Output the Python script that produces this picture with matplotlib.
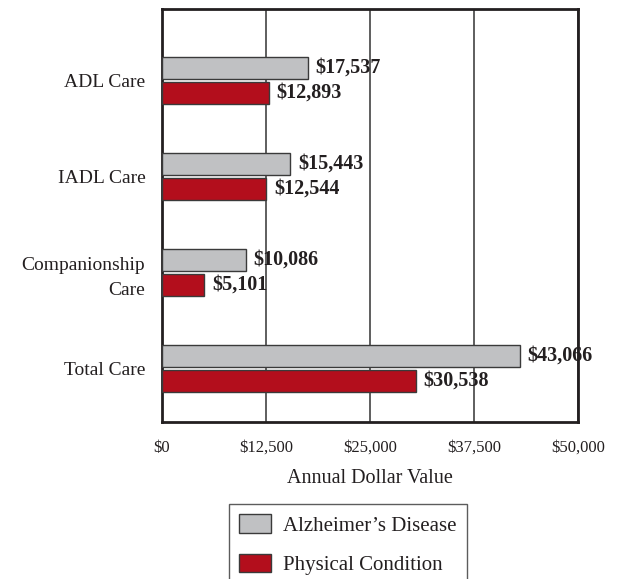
import matplotlib

matplotlib.use("Agg")
import matplotlib.pyplot as plt
from matplotlib.patches import Patch

categories = ["ADL Care", "IADL Care", "Companionship\nCare", "Total Care"]
alzheimers = [17537, 15443, 10086, 43066]
physical = [12893, 12544, 5101, 30538]
series_names = ["Alzheimer\u2019s Disease", "Physical Condition"]
x_ticks = [0, 12500, 25000, 37500, 50000]

GRAY = "#c0c1c3"
RED = "#b30e1c"
EDGE = "#3a3a3a"
TEXT = "#231f20"

plt.rcParams["font.family"] = ["Liberation Serif", "DejaVu Serif"]

fig = plt.figure(figsize=(6.18, 5.79), dpi=100)
W, H = 618, 579
ax = fig.add_axes([162 / W, 1 - 422 / H, (578 - 162) / W, (422 - 9) / H])

pos = list(range(len(categories)))
h = 0.235
ax.barh([p - 0.125 for p in pos], alzheimers, height=h, color=GRAY,
        edgecolor=EDGE, linewidth=1.0, zorder=3)
ax.barh([p + 0.135 for p in pos], physical, height=h, color=RED,
        edgecolor=EDGE, linewidth=1.0, zorder=3)

for p, a, b in zip(pos, alzheimers, physical):
    ax.text(a + 900, p - 0.125, f"${a:,}", va="center", ha="left",
            fontsize=14.5, fontweight="bold", color=TEXT, zorder=4)
    ax.text(b + 900, p + 0.135, f"${b:,}", va="center", ha="left",
            fontsize=14.5, fontweight="bold", color=TEXT, zorder=4)

ax.set_xlim(0, 50000)
ax.set_ylim(3.5625, -0.74)
ax.set_xticks(x_ticks)
ax.set_xticklabels([f"${v:,}" for v in x_ticks], fontsize=12, color=TEXT)
ax.set_yticks(pos)
ax.set_yticklabels(categories, fontsize=14, color=TEXT, linespacing=1.6)
ax.tick_params(axis="both", length=0)
ax.tick_params(axis="x", pad=13)
ax.tick_params(axis="y", pad=12)
ax.xaxis.grid(True, color="#333333", linewidth=1.1, zorder=0)
ax.set_axisbelow(True)
for s in ax.spines.values():
    s.set_linewidth(2.0)
    s.set_color("#231f20")
ax.set_xlabel("Annual Dollar Value", fontsize=14.5, color=TEXT, labelpad=9)

handles = [Patch(facecolor=GRAY, edgecolor=EDGE, linewidth=1.0),
           Patch(facecolor=RED, edgecolor=EDGE, linewidth=1.0)]
leg = fig.legend(handles, series_names, loc="upper left",
                 bbox_to_anchor=(229 / W, 1 - 504 / H), fontsize=15,
                 frameon=True, fancybox=False, edgecolor="#333333",
                 handlelength=1.5, handleheight=1.0, borderpad=0.5,
                 labelspacing=0.85, borderaxespad=0, handletextpad=0.6)
leg.get_frame().set_linewidth(1.0)
for t in leg.get_texts():
    t.set_color(TEXT)

fig.savefig("out.png", dpi=100)
